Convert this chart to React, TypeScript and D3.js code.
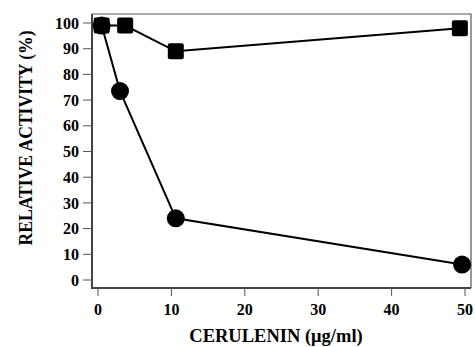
import React from "react";
import * as d3 from "d3";

const squareX = [0.5, 3.7, 10.6, 49.3];
const squareY = [99, 99, 89, 98];
const circleX = [0.5, 3.0, 10.6, 49.6];
const circleY = [99, 73.5, 24, 6];
const xTicks = [0, 10, 20, 30, 40, 50];
const yTicks = [0, 10, 20, 30, 40, 50, 60, 70, 80, 90, 100];

const W = 475;
const H = 347;
const box = { left: 92, right: 471, top: 14, bottom: 288 };
const font = "'Liberation Serif', 'Times New Roman', serif";

const App = () => {
  const x = d3.scaleLinear().domain([0, 50]).range([98, 465]);
  const y = d3.scaleLinear().domain([0, 100]).range([280, 23]);

  const line = d3
    .line<[number, number]>()
    .x((d) => x(d[0]))
    .y((d) => y(d[1]));

  const squares: [number, number][] = squareX.map((v, i) => [v, squareY[i]]);
  const circles: [number, number][] = circleX.map((v, i) => [v, circleY[i]]);

  return (
    <svg width={W} height={H} style={{ position: "absolute", left: 0, top: 0 }}>
      <rect width={W} height={H} fill="#fff" />
      {/* frame */}
      <path
        d={`M${box.left},${box.top}H${box.right}V${box.bottom}`}
        fill="none"
        stroke="#555"
        strokeWidth={1.2}
      />
      <path
        d={`M${box.left},${box.top}V${box.bottom}H${box.right}`}
        fill="none"
        stroke="#444"
        strokeWidth={2}
      />
      {/* y axis */}
      {yTicks.map((t) => (
        <g key={"y" + t}>
          <line x1={box.left - 9} x2={box.left} y1={y(t)} y2={y(t)} stroke="#555" strokeWidth={1} />
          <text
            x={box.left - 13}
            y={y(t)}
            dy="0.35em"
            textAnchor="end"
            fontFamily={font}
            fontWeight="bold"
            fontSize={16}
          >
            {t}
          </text>
        </g>
      ))}
      {/* x axis */}
      {xTicks.map((t) => (
        <g key={"x" + t}>
          <line x1={x(t)} x2={x(t)} y1={box.bottom} y2={box.bottom + 8} stroke="#555" strokeWidth={1} />
          <text
            x={x(t)}
            y={315}
            textAnchor="middle"
            fontFamily={font}
            fontWeight="bold"
            fontSize={16}
          >
            {t}
          </text>
        </g>
      ))}
      <text
        x={276}
        y={342}
        textAnchor="middle"
        fontFamily={font}
        fontWeight="bold"
        fontSize={18.5}
      >
        CERULENIN (μg/ml)
      </text>
      <text
        transform={`translate(32,138) rotate(-90)`}
        textAnchor="middle"
        fontFamily={font}
        fontWeight="bold"
        fontSize={18}
        textLength={215}
        lengthAdjust="spacingAndGlyphs"
      >
        RELATIVE ACTIVITY (%)
      </text>
      {/* series */}
      <path d={line(circles) || ""} fill="none" stroke="#000" strokeWidth={2} />
      <path d={line(squares) || ""} fill="none" stroke="#000" strokeWidth={2} />
      {circles.map((d, i) => (
        <circle key={"c" + i} cx={x(d[0])} cy={y(d[1])} r={9} fill="#000" />
      ))}
      {squares.map((d, i) => (
        <rect
          key={"s" + i}
          x={x(d[0]) - 8}
          y={y(d[1]) - 8}
          width={16}
          height={16}
          rx={2}
          fill="#000"
        />
      ))}
    </svg>
  );
};

export default App;
